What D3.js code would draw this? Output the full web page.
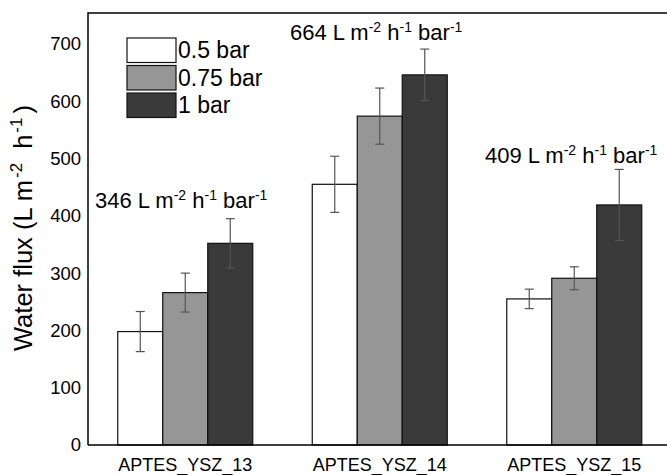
<!DOCTYPE html>
<html><head><meta charset="utf-8">
<script src="https://cdn.jsdelivr.net/npm/d3@7"></script>
<style>body{margin:0;background:#fff}svg{display:block}text{font-family:"Liberation Sans",Arial,sans-serif;fill:#000}</style>
</head><body>
<svg id="c" width="667" height="475"></svg>
<script>
const categories = ["APTES_YSZ_13", "APTES_YSZ_14", "APTES_YSZ_15"];
const seriesNames = ["0.5 bar", "0.75 bar", "1 bar"];
const seriesColors = ["#ffffff", "#969696", "#3a3a3a"];
const flux05 = [198, 455, 255];
const flux075 = [266, 574, 291];
const flux1 = [352, 646, 419];
const err05 = [35, 49, 17];
const err075 = [34, 49, 20];
const err1 = [43, 45, 62];
const yTicks = [0, 100, 200, 300, 400, 500, 600, 700];
const annotations = ["346", "664", "409"];

const values = [flux05, flux075, flux1];
const errs = [err05, err075, err1];

const svg = d3.select("#c");
const L = 88, T = 13, B = 445, R = 671.5;
const y = d3.scaleLinear().domain([0, 754]).range([B, T]);
const x0 = d3.scaleBand().domain(categories).range([L, R]).paddingInner(0.306).paddingOuter(0.153);
const x1 = d3.scaleBand().domain(seriesNames).range([0, x0.bandwidth()]);

// bars
categories.forEach((c, ci) => {
  const g = svg.append("g").attr("transform", `translate(${x0(c)},0)`);
  seriesNames.forEach((s, si) => {
    const v = values[si][ci], e = errs[si][ci];
    g.append("rect").attr("x", x1(s)).attr("y", y(v))
      .attr("width", x1.bandwidth()).attr("height", B - y(v))
      .attr("fill", seriesColors[si]).attr("stroke", "#111").attr("stroke-width", 1.2);
    const cx = x1(s) + x1.bandwidth() / 2;
    const col = "#555";
    g.append("line").attr("x1", cx).attr("x2", cx).attr("y1", y(v + e)).attr("y2", y(v - e)).attr("stroke", col).attr("stroke-width", 1.2);
    [v + e, v - e].forEach(w => g.append("line").attr("x1", cx - 4.5).attr("x2", cx + 4.5).attr("y1", y(w)).attr("y2", y(w)).attr("stroke", col).attr("stroke-width", 1.2));
  });
});

// frame
svg.append("path").attr("d", `M${L},${B}V${T}H667`).attr("fill", "none").attr("stroke", "#000").attr("stroke-width", 1.5);
svg.append("path").attr("d", `M${L},${B}H667`).attr("fill", "none").attr("stroke", "#000").attr("stroke-width", 1.5);

// y axis
const ya = svg.append("g").attr("transform", `translate(${L},0)`)
  .call(d3.axisLeft(y).tickValues(yTicks).tickSize(0).tickPadding(7));
ya.select(".domain").remove();
ya.selectAll("text").style("font-size", "18.5px").attr("font-family", null);

// x axis
const xa = svg.append("g").attr("transform", `translate(0,${B})`)
  .call(d3.axisBottom(x0).tickSize(0).tickPadding(13));
xa.select(".domain").remove();
xa.selectAll("text").style("font-size", "18px").attr("font-family", null);

// y title
const yt = svg.append("text").attr("transform", "translate(32,351) rotate(-90)")
  .attr("text-anchor", "start").style("font-size", "25.5px");
yt.append("tspan").text("Water flux (L m");
yt.append("tspan").attr("dy", -10).attr("dx", 2).style("font-size", "17px").text("-2");
yt.append("tspan").attr("dy", 10).attr("dx", 7).text(" h");
yt.append("tspan").attr("dy", -10).attr("dx", 2).style("font-size", "17px").text("-1");
yt.append("tspan").attr("dy", 10).attr("dx", 4).text(")");

// annotations
const annPos = [[95, 208], [290, 40], [485, 163]];
annotations.forEach((a, i) => {
  const t = svg.append("text").attr("x", annPos[i][0]).attr("y", annPos[i][1]).style("font-size", "22px");
  t.append("tspan").text(a + " L m");
  t.append("tspan").attr("dy", -8).style("font-size", "14px").text("-2");
  t.append("tspan").attr("dy", 8).text(" h");
  t.append("tspan").attr("dy", -8).style("font-size", "14px").text("-1");
  t.append("tspan").attr("dy", 8).text(" bar");
  t.append("tspan").attr("dy", -8).style("font-size", "14px").text("-1");
});

// legend
const lg = svg.append("g").attr("transform", "translate(127,38)");
seriesNames.forEach((s, i) => {
  lg.append("rect").attr("x", 0).attr("y", i * 27.5).attr("width", 49).attr("height", 24.5)
    .attr("fill", seriesColors[i]).attr("stroke", "#111").attr("stroke-width", 1.2);
  lg.append("text").attr("x", 51).attr("y", i * 27.5 + 20).style("font-size", "23px").text(s);
});
</script>
</body></html>
